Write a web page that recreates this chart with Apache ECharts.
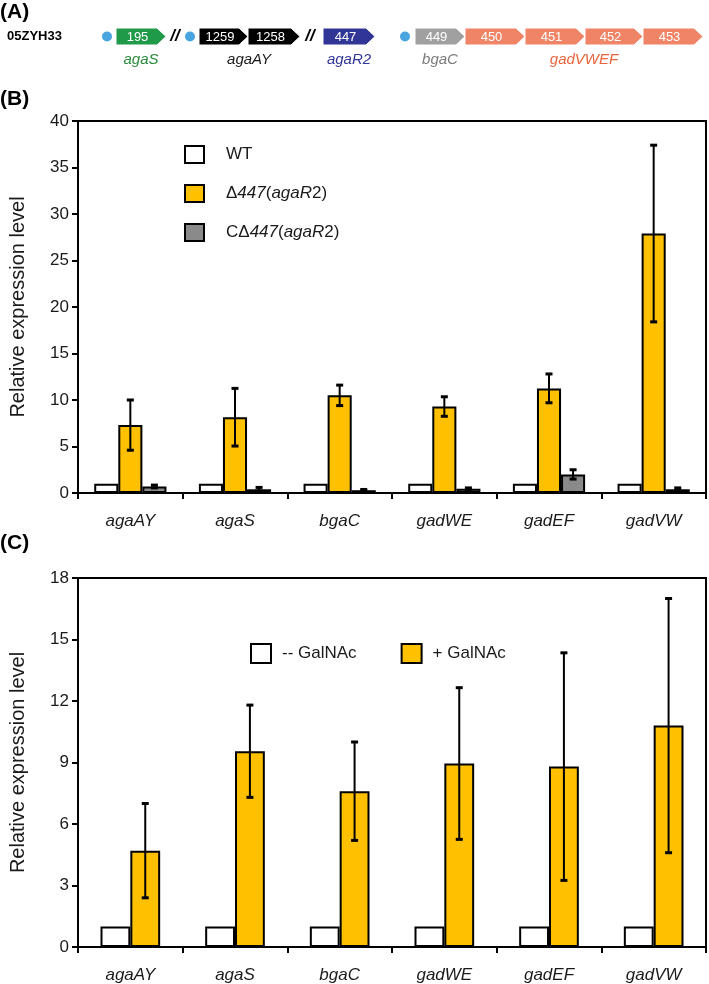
<!DOCTYPE html>
<html><head><meta charset="utf-8">
<script src="https://cdn.jsdelivr.net/npm/echarts@6/dist/echarts.min.js"></script>
<style>html,body{margin:0;padding:0;background:#fff}#c{width:709px;height:984px}</style>
</head><body><div id="c"></div>
<script>
// ---------- Panel A : gene map ----------
const strainName = '05ZYH33';
const geneIds   = ['195','1259','1258','447','449','450','451','452','453'];
const geneStart = [116, 199, 248, 323, 415, 465, 525, 585, 643];
const geneEnd   = [166, 248, 300, 375, 465, 525, 585, 643, 703];
const geneGroup = [0, 1, 1, 2, 3, 4, 4, 4, 4];
const groupNames  = ['agaS', 'agaAY', 'agaR2', 'bgaC', 'gadVWEF'];
const groupCenter = [141, 249, 349, 440, 584];
const promoterPos = [107, 190, 405];
const breakPos    = [175, 310];

// ---------- Panel B ----------
const categories = ['agaAY', 'agaS', 'bgaC', 'gadWE', 'gadEF', 'gadVW'];
const seriesNamesB = ['WT', 'Δ447(agaR2)', 'CΔ447(agaR2)'];
const wtB      = [1, 1, 1, 1, 1, 1];
const mutB     = [7.3, 8.15, 10.5, 9.3, 11.25, 27.9];
const mutErrB  = [2.7, 3.1, 1.1, 1.05, 1.55, 9.5];
const compB    = [0.7, 0.4, 0.3, 0.45, 2.0, 0.4];
const compErrB = [0.15, 0.2, 0.08, 0.1, 0.5, 0.15];
const yMaxB = 40, yStepB = 5;

// ---------- Panel C ----------
const seriesNamesC = ['-- GalNAc', '+ GalNAc'];
const noGalC     = [1, 1, 1, 1, 1, 1];
const galC       = [4.7, 9.55, 7.6, 8.95, 8.8, 10.8];
const galErrC    = [2.3, 2.25, 2.4, 3.7, 5.55, 6.2];
const yMaxC = 18, yStepC = 3;

const yTitle = 'Relative expression level';

// ---------- styles ----------
const FONT = 'Liberation Sans, Arial, sans-serif';
const groupFill  = ['#1f9a48', '#000000', '#303596', '#a0a0a0', '#ef8466'];
const groupText  = ['#2a8a3c', '#1a1a1a', '#303596', '#7a7a7a', '#e8643c'];
const cWhite = '#ffffff', cOrange = '#FFC000', cGray = '#8a8a8a';

const chart = echarts.init(document.getElementById('c'), null, {renderer: 'canvas'});

function catAxis(gridIndex) {
  return {
    type: 'category', gridIndex, data: categories,
    axisLine: {lineStyle: {color: '#000', width: 2}},
    axisTick: {show: true, length: 6, lineStyle: {color: '#000', width: 2}},
    axisLabel: {fontFamily: FONT, fontSize: 17, fontStyle: 'italic', color: '#1a1a1a', margin: 20}
  };
}
function valAxis(gridIndex, max, step) {
  return {
    type: 'value', gridIndex, min: 0, max, interval: step,
    name: yTitle, nameLocation: 'middle', nameGap: 50, nameRotate: 90,
    nameTextStyle: {fontFamily: FONT, fontSize: 20, color: '#1a1a1a'},
    axisLine: {show: true, lineStyle: {color: '#000', width: 2}},
    axisTick: {show: true, length: 6, lineStyle: {color: '#000', width: 2}},
    axisLabel: {fontFamily: FONT, fontSize: 17, color: '#1a1a1a', margin: 9},
    splitLine: {show: false}
  };
}
function barSeries(name, data, color, xi, yi, gap) {
  return {
    type: 'bar', name, data, xAxisIndex: xi, yAxisIndex: yi,
    barGap: '0%', barCategoryGap: gap,
    itemStyle: {color, borderColor: '#000', borderWidth: 2},
    z: 2
  };
}
function errSeries(vals, errs, idx, n, gapFrac, xi, yi) {
  return {
    type: 'custom', xAxisIndex: xi, yAxisIndex: yi, z: 5,
    data: vals.map((v, i) => [i, v, errs[i]]),
    renderItem: function (params, api) {
      const i = api.value(0), v = api.value(1), e = api.value(2);
      const band = api.size([1, 0])[0];
      const bw = band * (1 - gapFrac) / n;
      const off = -band * (1 - gapFrac) / 2 + bw * (idx + 0.5);
      const top = api.coord([i, v + e]);
      const bot = api.coord([i, v - e]);
      const x = top[0] + off, cap = 3.5;
      const ls = {stroke: '#000', lineWidth: 2};
      return {type: 'group', children: [
        {type: 'line', shape: {x1: x, y1: top[1], x2: x, y2: bot[1]}, style: ls},
        {type: 'line', shape: {x1: x - cap, y1: top[1], x2: x + cap, y2: top[1]}, style: {stroke: '#000', lineWidth: 3}},
        {type: 'line', shape: {x1: x - cap, y1: bot[1], x2: x + cap, y2: bot[1]}, style: {stroke: '#000', lineWidth: 3}}
      ]};
    }
  };
}

const legendRich = {
  n: {fontFamily: FONT, fontSize: 17, color: '#1a1a1a'},
  i: {fontFamily: FONT, fontSize: 17, color: '#1a1a1a', fontStyle: 'italic'}
};
function fmtB(name) {
  if (name === 'WT') return '{n|WT}';
  if (name === 'Δ447(agaR2)') return '{n|Δ}{i|447}{n|(}{i|agaR}{n|2)}';
  return '{n|CΔ}{i|447}{n|(}{i|agaR}{n|2)}';
}

const option = {
  animation: false,
  backgroundColor: '#fff',
  title: [
    {text: '(A)', left: 0, top: 2, padding: 0, textStyle: {fontFamily: FONT, fontSize: 21, fontWeight: 'bold', color: '#000'}},
    {text: '(B)', left: 0, top: 89, padding: 0, textStyle: {fontFamily: FONT, fontSize: 21, fontWeight: 'bold', color: '#000'}},
    {text: '(C)', left: 0, top: 533, padding: 0, textStyle: {fontFamily: FONT, fontSize: 21, fontWeight: 'bold', color: '#000'}},
    {text: strainName, left: 7, top: 30, padding: 0, textStyle: {fontFamily: FONT, fontSize: 13, fontWeight: 'bold', color: '#000'}}
  ],
  grid: [
    {left: 0, top: 28, width: 709, height: 17, show: false},
    {left: 76, top: 121, width: 630, height: 372, show: true, borderColor: '#000', borderWidth: 2, backgroundColor: 'transparent'},
    {left: 76, top: 578, width: 630, height: 369, show: true, borderColor: '#000', borderWidth: 2, backgroundColor: 'transparent'}
  ],
  xAxis: [
    {type: 'value', gridIndex: 0, min: 0, max: 709, show: false},
    catAxis(1),
    catAxis(2)
  ],
  yAxis: [
    {type: 'value', gridIndex: 0, min: 0, max: 1, show: false},
    valAxis(1, yMaxB, yStepB),
    valAxis(2, yMaxC, yStepC)
  ],
  legend: [
    {
      data: seriesNamesB.map((nm, k) => ({name: nm, itemStyle: {color: [cWhite, cOrange, cGray][k], borderColor: '#000', borderWidth: 2}})),
      orient: 'vertical', left: 184, top: 145, padding: 0, itemWidth: 19, itemHeight: 17, itemGap: 20,
      icon: 'rect', formatter: fmtB, selectedMode: false,
      textStyle: {rich: legendRich, padding: [0, 0, 0, 17]}
    },
    {
      data: seriesNamesC.map((nm, k) => ({name: nm, itemStyle: {color: [cWhite, cOrange][k], borderColor: '#000', borderWidth: 2}})),
      orient: 'horizontal', left: 250, top: 643, padding: 0, itemWidth: 20, itemHeight: 19, itemGap: 44,
      icon: 'rect', selectedMode: false,
      textStyle: {fontFamily: FONT, fontSize: 17, color: '#1a1a1a', padding: [0, 0, 0, 6]}
    }
  ],
  series: [
    // gene arrows
    {
      type: 'custom', xAxisIndex: 0, yAxisIndex: 0, z: 3,
      data: geneIds.map((id, k) => [geneStart[k], geneEnd[k], geneGroup[k], id]),
      renderItem: function (params, api) {
        const s = api.coord([api.value(0), 1]);
        const e = api.coord([api.value(1), 0]);
        const g = api.value(2);
        const x0 = s[0], x1 = e[0], yt = s[1], yb = e[1], ym = (yt + yb) / 2, tip = 9;
        return {type: 'group', children: [
          {type: 'polygon', shape: {points: [[x0, yt], [x1 - tip, yt], [x1, ym], [x1 - tip, yb], [x0, yb]]},
           style: {fill: groupFill[g], stroke: '#fff', lineWidth: 1}},
          {type: 'text', style: {text: geneIds[params.dataIndex], x: (x0 + x1 - tip) / 2 + 1, y: ym + 0.5,
            align: 'center', verticalAlign: 'middle', fill: '#fff', font: '13px ' + FONT}}
        ]};
      }
    },
    // promoters
    {
      type: 'scatter', xAxisIndex: 0, yAxisIndex: 0, symbol: 'circle', symbolSize: 10,
      data: promoterPos.map(p => [p, 0.5]), itemStyle: {color: '#1a8fd8'}, z: 3
    },
    // breaks
    {
      type: 'custom', xAxisIndex: 0, yAxisIndex: 0, z: 3,
      data: breakPos.map(p => [p, 0.5]),
      renderItem: function (params, api) {
        const c = api.coord([api.value(0), api.value(1)]);
        return {type: 'text', style: {text: '//', x: c[0], y: c[1], align: 'center', verticalAlign: 'middle',
          fill: '#000', font: 'italic bold 17px ' + FONT}};
      }
    },
    // group labels
    {
      type: 'custom', xAxisIndex: 0, yAxisIndex: 0, z: 3,
      data: groupNames.map((nm, k) => [groupCenter[k], 0, k]),
      renderItem: function (params, api) {
        const c = api.coord([api.value(0), api.value(1)]);
        const k = api.value(2);
        return {type: 'text', style: {text: groupNames[k], x: c[0], y: c[1] + 15, align: 'center', verticalAlign: 'middle',
          fill: groupText[k], font: 'italic 15px ' + FONT}};
      }
    },
    // Panel B
    barSeries(seriesNamesB[0], wtB, cWhite, 1, 1, '31%'),
    barSeries(seriesNamesB[1], mutB, cOrange, 1, 1, '31%'),
    barSeries(seriesNamesB[2], compB, cGray, 1, 1, '31%'),
    errSeries(mutB, mutErrB, 1, 3, 0.31, 1, 1),
    errSeries(compB, compErrB, 2, 3, 0.31, 1, 1),
    // Panel C
    barSeries(seriesNamesC[0], noGalC, cWhite, 2, 2, '43%'),
    barSeries(seriesNamesC[1], galC, cOrange, 2, 2, '43%'),
    errSeries(galC, galErrC, 1, 2, 0.43, 2, 2)
  ]
};
chart.setOption(option);
</script></body></html>
